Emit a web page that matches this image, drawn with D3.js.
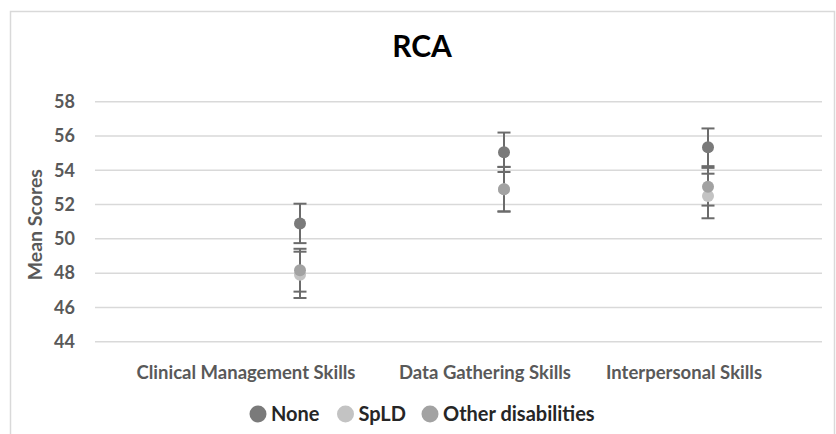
<!DOCTYPE html>
<html>
<head>
<meta charset="utf-8">
<script src="https://cdn.jsdelivr.net/npm/d3@7"></script>
<style>
  body { margin: 0; background: #fff; }
  svg text { font-family: Lato, "Open Sans", sans-serif; }
</style>
</head>
<body>
<svg id="chart" width="836" height="434"></svg>
<script>
const categories = ['Clinical Management Skills', 'Data Gathering Skills', 'Interpersonal Skills'];
const seriesNames = ['None', 'SpLD', 'Other disabilities'];
const seriesColors = ['#7a7a7a', '#c3c3c3', '#a2a2a2'];
// mean, error (+/-)
const noneMeans = [50.9, 55.05, 55.34];
const noneErr = [1.15, 1.15, 1.1];
const spldMeans = [47.9, 52.9, 52.5];
const spldErr = [1.35, 1.3, 1.3];
const otherMeans = [48.17, 52.89, 53.04];
const otherErr = [1.25, 1.3, 1.1];
const yTicks = [44, 46, 48, 50, 52, 54, 56, 58];

const series = [
  { name: seriesNames[0], means: noneMeans, err: noneErr, color: seriesColors[0] },
  { name: seriesNames[1], means: spldMeans, err: spldErr, color: seriesColors[1] },
  { name: seriesNames[2], means: otherMeans, err: otherErr, color: seriesColors[2] }
];

const svg = d3.select('#chart');
const plotLeft = 95;
const plotRight = 822;
const plotTop = 101.7;
const plotBottom = 341.7;

// chart border
svg.append('rect')
  .attr('x', 10.5).attr('y', 11.5)
  .attr('width', 824).attr('height', 430)
  .attr('fill', 'none').attr('stroke', '#d9d9d9').attr('stroke-width', 1.5);

const y = d3.scaleLinear().domain([44, 58]).range([plotBottom, plotTop]);
const x = d3.scalePoint().domain(categories).range([300, 708]);

// gridlines
svg.append('g')
  .selectAll('line')
  .data(yTicks)
  .enter()
  .append('line')
  .attr('x1', plotLeft).attr('x2', plotRight)
  .attr('y1', d => y(d)).attr('y2', d => y(d))
  .attr('stroke', '#d9d9d9').attr('stroke-width', 1.5);

// y axis
const yAxis = svg.append('g')
  .attr('transform', `translate(${plotLeft},0)`)
  .call(d3.axisLeft(y).tickValues(yTicks).tickSize(0).tickPadding(20));
yAxis.select('.domain').remove();
yAxis.selectAll('text')
  .attr('fill', '#595959')
  .style('font-size', '18px')
  .style('font-weight', 700);

svg.append('text')
  .attr('transform', `translate(42,${(plotTop + plotBottom) / 2 + 3})rotate(-90)`)
  .attr('text-anchor', 'middle')
  .attr('fill', '#595959')
  .style('font-size', '19.5px')
  .style('font-weight', 700)
  .text('Mean Scores');

// category labels
svg.append('g')
  .selectAll('text')
  .data(categories)
  .enter()
  .append('text')
  .attr('x', (d, i) => x(d) - [54, 19, 24][i])
  .attr('y', 379)
  .attr('text-anchor', 'middle')
  .attr('fill', '#595959')
  .style('font-size', '18.5px')
  .style('font-weight', 700)
  .text(d => d);

// title
svg.append('text')
  .attr('x', 422).attr('y', 57)
  .attr('text-anchor', 'middle')
  .attr('fill', '#000')
  .style('font-size', '30px')
  .style('font-weight', 700)
  .text('RCA');

// error bars and points, drawn series by series (SpLD beneath Other)
const drawOrder = [1, 2, 0];
const capW = 6.5;
drawOrder.forEach(si => {
  const s = series[si];
  const g = svg.append('g');
  categories.forEach((c, i) => {
    const cx = x(c);
    const lo = y(s.means[i] - s.err[i]);
    const hi = y(s.means[i] + s.err[i]);
    g.append('line')
      .attr('x1', cx).attr('x2', cx).attr('y1', lo).attr('y2', hi)
      .attr('stroke', '#6b6b6b').attr('stroke-width', 2);
    [lo, hi].forEach(yy => {
      g.append('line')
        .attr('x1', cx - capW).attr('x2', cx + capW)
        .attr('y1', yy).attr('y2', yy)
        .attr('stroke', '#6b6b6b').attr('stroke-width', 2);
    });
  });
});
drawOrder.forEach(si => {
  const s = series[si];
  svg.append('g')
    .selectAll('circle')
    .data(categories)
    .enter()
    .append('circle')
    .attr('cx', d => x(d))
    .attr('cy', (d, i) => y(s.means[i]))
    .attr('r', 6)
    .attr('fill', s.color);
});

// legend
const legendX = [258, 345.5, 430];
const legend = svg.append('g')
  .selectAll('g')
  .data(series)
  .enter()
  .append('g')
  .attr('transform', (d, i) => `translate(${legendX[i]},414)`);
legend.append('circle')
  .attr('r', 8.5)
  .attr('fill', d => d.color);
legend.append('text')
  .attr('x', 13)
  .attr('y', 7)
  .attr('fill', '#262626')
  .style('font-size', '20px')
  .style('font-weight', 700)
  .text(d => d.name);
</script>
</body>
</html>
